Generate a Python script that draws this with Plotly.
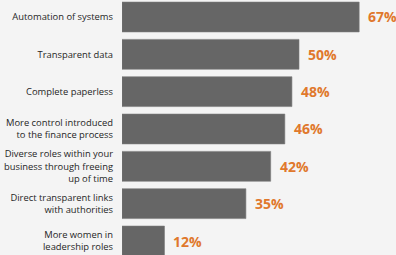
import plotly.graph_objects as go

categories = [
    "Automation of systems",
    "Transparent data",
    "Complete paperless",
    "More control introduced<br>to the finance process",
    "Diverse roles within your<br>business through freeing<br>up of time",
    "Direct transparent links<br>with authorities",
    "More women in<br>leadership roles",
]
values = [67, 50, 48, 46, 42, 35, 12]
value_labels = ["67%", "50%", "48%", "46%", "42%", "35%", "12%"]

bar_color = "#666666"
label_color = "#e0782c"
bg = "#f4f4f4"

fig = go.Figure()
fig.add_trace(go.Bar(
    x=values, y=categories, orientation="h",
    marker=dict(color=bar_color, line=dict(color="#7a7a7a", width=0.6)),
    width=0.8, hoverinfo="skip",
))

for c, v, t in zip(categories, values, value_labels):
    fig.add_annotation(x=v, y=c, text=t, showarrow=False, xanchor="left",
                       xshift=7, yanchor="middle",
                       font=dict(family="Open Sans", size=14, color=label_color, weight="bold"))

fig.update_layout(
    width=396, height=255,
    margin=dict(l=122, r=0, t=0, b=0, autoexpand=False),
    paper_bgcolor=bg, plot_bgcolor=bg,
    showlegend=False,
    hovermode=False,
    xaxis=dict(range=[0, 77.4], visible=False, showgrid=False, zeroline=False,
               automargin=False),
    yaxis=dict(categoryorder="array", categoryarray=categories,
               range=[6.375, -0.455], showgrid=False, zeroline=False,
               showline=False, ticks="", ticklabelstandoff=8, automargin=False,
               tickfont=dict(family="Open Sans", size=9.4, color="#262626")),
)

fig.write_html(
    "out.html",
    config={"displayModeBar": False, "staticPlot": True},
    post_script="document.body.style.margin='0';document.body.style.background='%s';" % bg,
)
